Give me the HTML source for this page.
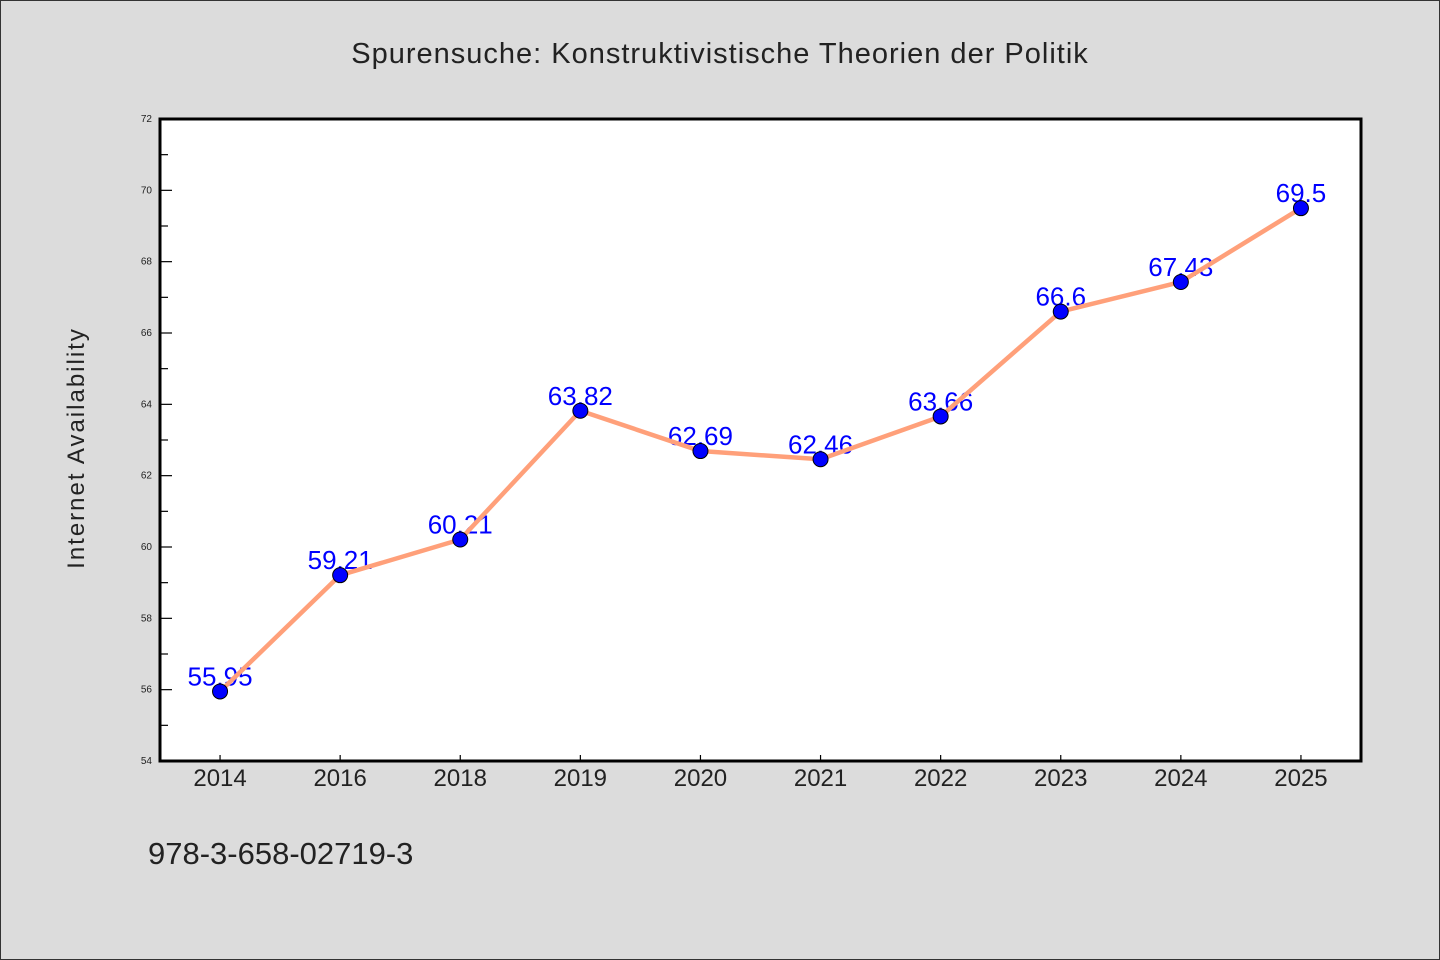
<!DOCTYPE html>
<html><head><meta charset="utf-8"><style>
html,body{margin:0;padding:0;background:#dcdcdc}
svg{display:block}
text{font-family:"WenQuanYi Zen Hei","Liberation Sans",sans-serif}
</style></head><body>
<svg id="chart" width="1440" height="960" viewBox="0 0 1440 960" xmlns="http://www.w3.org/2000/svg">
<rect x="0.5" y="0.5" width="1439" height="959" fill="#dcdcdc" stroke="#333" stroke-width="1"/>
<text x="720" y="63" font-size="29" text-anchor="middle" fill="#222" letter-spacing="1">Spurensuche: Konstruktivistische Theorien der Politik</text>
<rect x="160" y="119" width="1201" height="642" fill="#fff"/>
<g id="axes"></g>
<g id="labels"></g>
<g id="series"></g>
<rect x="160" y="119" width="1201" height="642" fill="none" stroke="#000" stroke-width="3"/>
<text transform="translate(84,448) rotate(-90)" font-size="24" text-anchor="middle" fill="#222" letter-spacing="2">Internet Availability</text>
<text x="148" y="864" font-size="31" fill="#222">978-3-658-02719-3</text>
</svg>
<script>
const categories = ["2014","2016","2018","2019","2020","2021","2022","2023","2024","2025"];
const values = [55.95,59.21,60.21,63.82,62.69,62.46,63.66,66.6,67.43,69.5];
const valueLabels = ["55.95","59.21","60.21","63.82","62.69","62.46","63.66","66.6","67.43","69.5"];
const yTicks = [54,56,58,60,62,64,66,68,70,72];
const yMin = 54, yMax = 72;
const NS = "http://www.w3.org/2000/svg";
const L=160,R=1361,T=119,B=761;
function xPos(i){const step=(R-L)/categories.length;return L+step/2+i*step;}
function yPos(v){return B-(v-yMin)/(yMax-yMin)*(B-T);}
function mk(tag,attrs,parent){const e=document.createElementNS(NS,tag);for(const k in attrs)e.setAttribute(k,attrs[k]);parent.appendChild(e);return e;}
const axes=document.getElementById('axes'),labels=document.getElementById('labels'),series=document.getElementById('series');
yTicks.forEach((t,i)=>{
  const y=yPos(t);
  const tk=mk('line',{x1:L,x2:L+12,y1:y,y2:y,stroke:'#000','stroke-width':1.2},axes);
  
  
  const tl=mk('text',{x:L-8,y:y+3,'font-size':10,'text-anchor':'end',fill:'#222'},axes);
  tl.textContent=t;
  
  
  if(i<yTicks.length-1){
    const ym=yPos(t+(yTicks[1]-yTicks[0])/2);
    const mn=mk('line',{x1:L,x2:L+8,y1:ym,y2:ym,stroke:'#000','stroke-width':1.2},axes);
    
    
  }
});
categories.forEach((c,i)=>{
  const x=xPos(i);
  const tk=mk('line',{x1:x,x2:x,y1:B,y2:B-6,stroke:'#000','stroke-width':1.2},axes);
  
  
  const tl=mk('text',{x:x,y:B+25,'font-size':24,'text-anchor':'middle',fill:'#222'},axes);
  tl.textContent=c;
  
  
  const vl=mk('text',{x:x,y:yPos(values[i])-6,'font-size':26,'text-anchor':'middle',fill:'#0000ff'},labels);
  vl.textContent=valueLabels[i];
  
  
});
const pts=values.map((v,i)=>xPos(i)+','+yPos(v)).join(' ');
const line=mk('polyline',{points:pts,fill:'none',stroke:'#ffa07a','stroke-width':4.5,'stroke-linejoin':'round'},series);


values.forEach((v,i)=>{
  const c=mk('circle',{cx:xPos(i),cy:yPos(v),r:7.5,fill:'#0000ff',stroke:'#000','stroke-width':1},series);
  
  
});
</script>
</body></html>
